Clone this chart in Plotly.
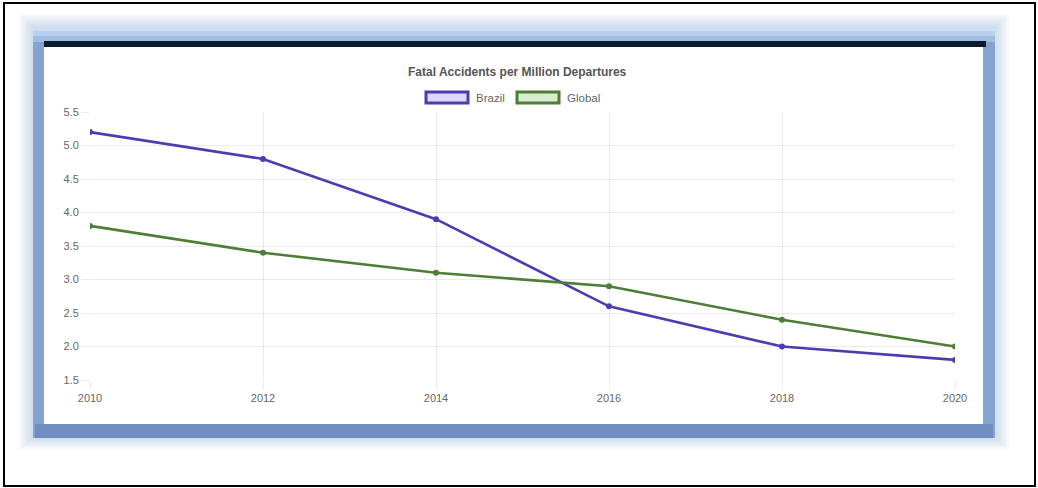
import plotly.graph_objects as go

# --- data -------------------------------------------------------------
years = [2010, 2012, 2014, 2016, 2018, 2020]
brazil = [5.2, 4.8, 3.9, 2.6, 2.0, 1.8]
global_rate = [3.8, 3.4, 3.1, 2.9, 2.4, 2.0]
y_ticks = [1.5, 2.0, 2.5, 3.0, 3.5, 4.0, 4.5, 5.0, 5.5]

TITLE = "Fatal Accidents per Million Departures"
BRAZIL_COLOR = "#4a3db0"
GLOBAL_COLOR = "#4e7d36"
FONT = "Liberation Sans, Arial, sans-serif"

W, H = 1038, 488


def px(x):
    return x / W


def py(y):
    return 1 - y / H


def rect(x0, y0, x1, y1, fill=None, line_color=None, line_width=0, opacity=1.0, layer="below"):
    return dict(
        type="rect", xref="paper", yref="paper",
        x0=px(x0), x1=px(x1), y0=py(y1), y1=py(y0),
        fillcolor=fill if fill else "rgba(0,0,0,0)",
        line=dict(color=line_color if line_color else "rgba(0,0,0,0)", width=line_width),
        opacity=opacity, layer=layer,
    )


shapes = []
# soft blue glow around the card (stacked translucent layers)
for d in range(14, 0, -2):
    shapes.append(rect(33 - d, 28 - d, 995 + d, 438 + d * 0.8, fill="rgb(130,165,212)", opacity=0.06))
# blue frame of the card, lighter towards the top
shapes.append(rect(33, 30, 995, 438, fill="rgb(132,163,206)"))
shapes.append(rect(33, 26, 995, 31, fill="rgb(205,222,243)"))
shapes.append(rect(33, 31, 995, 36, fill="rgb(185,207,236)"))
shapes.append(rect(33, 36, 995, 42, fill="rgb(160,189,228)"))
shapes.append(rect(35, 424, 993, 438, fill="rgb(112,143,192)"))
# white card body
shapes.append(rect(44, 46, 983, 424, fill="white"))
# dark header strip
shapes.append(rect(44, 41, 986, 47, fill="#0e1b2e"))
# outer thin black frame
shapes.append(rect(4, 3, 1035, 486, line_color="black", line_width=2, layer="above"))

# legend swatches
shapes.append(rect(426, 92, 468, 103, fill="#dcd8f6", line_color=BRAZIL_COLOR, line_width=3, layer="above"))
shapes.append(rect(517, 92, 559, 103, fill="#d8ecd0", line_color=GLOBAL_COLOR, line_width=3, layer="above"))

annotations = [
    dict(text=f"<b>{TITLE}</b>", x=px(517), y=py(72), xref="paper", yref="paper",
         xanchor="center", yanchor="middle",
         showarrow=False, font=dict(size=12, color="#555555", family=FONT)),
    dict(text="Brazil", x=px(474), y=py(98), xref="paper", yref="paper",
         xanchor="left", yanchor="middle",
         showarrow=False, font=dict(size=11.5, color="#666666", family=FONT)),
    dict(text="Global", x=px(565), y=py(98), xref="paper", yref="paper",
         xanchor="left", yanchor="middle",
         showarrow=False, font=dict(size=11.5, color="#666666", family=FONT)),
]

fig = go.Figure()
fig.add_trace(go.Scatter(
    x=years, y=brazil, name="Brazil", mode="lines+markers",
    line=dict(color=BRAZIL_COLOR, width=2.6),
    marker=dict(color=BRAZIL_COLOR, size=6),
))
fig.add_trace(go.Scatter(
    x=years, y=global_rate, name="Global", mode="lines+markers",
    line=dict(color=GLOBAL_COLOR, width=2.6),
    marker=dict(color=GLOBAL_COLOR, size=6),
))

axis_common = dict(
    showgrid=True, gridcolor="rgba(0,0,0,0.08)", gridwidth=1,
    zeroline=False, showline=False,
    ticks="outside", ticklen=8, tickcolor="rgba(0,0,0,0.08)",
    tickfont=dict(size=11, color="#666666"),
    automargin=False,
)

fig.update_layout(
    width=W, height=H,
    margin=dict(l=0, r=0, t=0, b=0),
    paper_bgcolor="white",
    plot_bgcolor="rgba(0,0,0,0)",
    showlegend=False,
    shapes=shapes,
    annotations=annotations,
    font=dict(family=FONT, size=11, color="#666666"),
    xaxis=dict(
        domain=[px(90), px(955)],
        range=[2010, 2020],
        tickmode="array", tickvals=years, ticktext=[str(y) for y in years],
        **axis_common,
    ),
    yaxis=dict(
        domain=[py(380), py(112)],
        range=[1.5, 5.5],
        tickmode="array", tickvals=y_ticks, ticktext=[f"{v:.1f}" for v in y_ticks],
        **axis_common,
    ),
)

fig.write_html("out.html")
